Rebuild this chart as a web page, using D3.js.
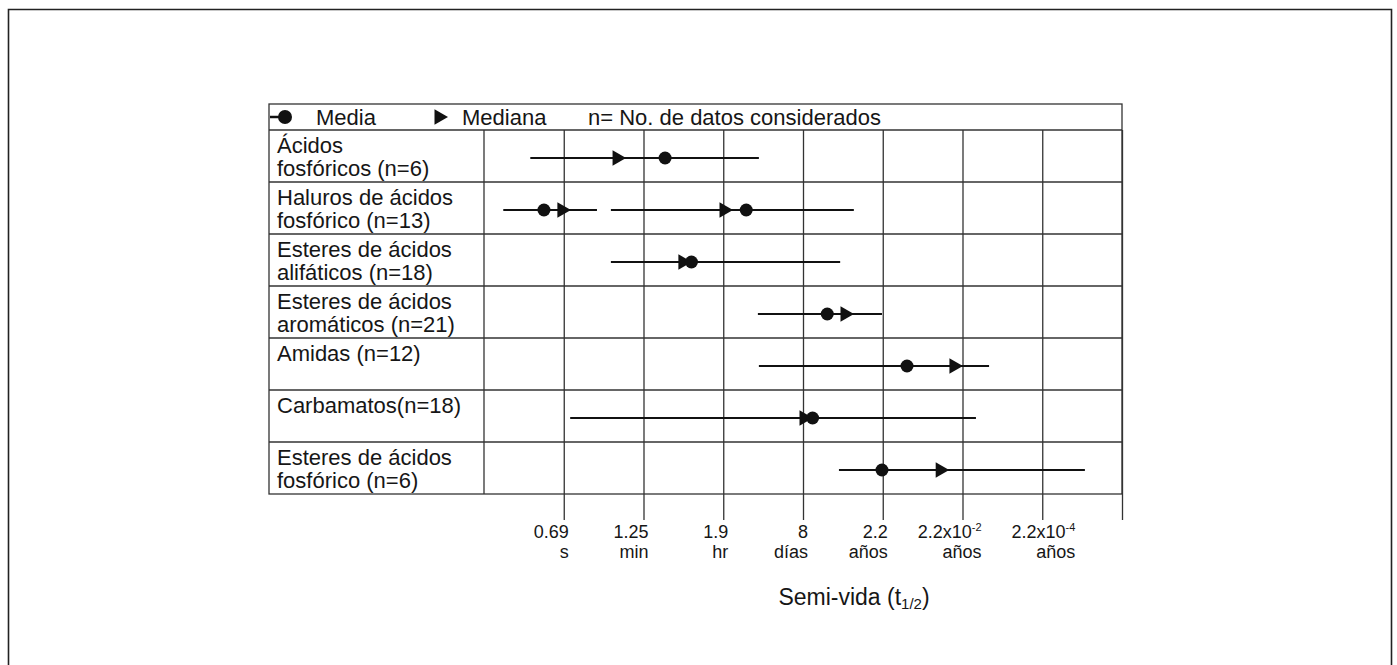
<!DOCTYPE html>
<html>
<head>
<meta charset="utf-8">
<script src="https://cdn.jsdelivr.net/npm/d3@7"></script>
<style>
  body { margin: 0; background: #fff; }
  text { font-family: "Liberation Sans", Arial, Helvetica, sans-serif; fill: #161616; }
</style>
</head>
<body>
<div id="chart"></div>
<script>
// half-lives in seconds (each tick = x100)
const rowLabels = [
  ["Ácidos", "fosfóricos (n=6)"],
  ["Haluros de ácidos", "fosfórico (n=13)"],
  ["Esteres de ácidos", "alifáticos (n=18)"],
  ["Esteres de ácidos", "aromáticos (n=21)"],
  ["Amidas (n=12)"],
  ["Carbamatos(n=18)"],
  ["Esteres de ácidos", "fosfórico (n=6)"]
]
const segRow    = [0, 1, 1, 2, 3, 4, 5, 6]
const segMin    = [0.1, 0.021, 10.5, 10.5, 5.1e4, 5.4e4, 1.0, 5.5e6]
const segMax    = [5.4e4, 4.7, 1.3e7, 5.9e6, 6.6e7, 3.2e10, 1.5e10, 8.1e12]
const segMean   = [240, 0.22, 2.6e4, 1100, 2.8e6, 2.8e8, 1.2e6, 6.6e7]
const segMedian = [15, 0.62, 7200, 670, 7.8e6, 4.2e9, 7.3e5, 1.9e9]

const tickVals  = [0.69, 69, 6900, 6.9e5, 6.9e7, 6.9e9, 6.9e11]
const tickNums  = ["0.69", "1.25", "1.9", "8", "2.2", "2.2x10", "2.2x10"]
const tickSups  = ["", "", "", "", "", "-2", "-4"]
const tickUnits = ["s", "min", "hr", "días", "años", "años", "años"]

const W = 1397, H = 665
const tableLeft = 269, tableRight = 1122, labelCol = 484
const legendTop = 104, rowsTop = 130, rowsBottom = 494, tickBottom = 520
const gridColor = '#333'

const svg = d3.select('#chart').append('svg')
  .attr('width', W).attr('height', H)

// outer frame (open at the bottom, as in the scan)
svg.append('path')
  .attr('d', `M8.5,${H + 5}V9.5H1391.5V${H + 5}`)
  .attr('fill', 'none').attr('stroke', '#222').attr('stroke-width', 1.6)

const x = d3.scaleLog()
  .domain([0.0069, 6.9e13])
  .range([labelCol, tableRight])

const y = d3.scaleBand()
  .domain(d3.range(rowLabels.length))
  .range([rowsTop, rowsBottom])

// table frame
const table = svg.append('g')
  .attr('fill', 'none').attr('stroke', gridColor).attr('stroke-width', 1.3)
table.append('rect')
  .attr('x', tableLeft).attr('y', legendTop)
  .attr('width', tableRight - tableLeft).attr('height', rowsBottom - legendTop)
table.selectAll('.hline').data(d3.range(rowLabels.length)).enter().append('line')
  .attr('x1', tableLeft).attr('x2', tableRight)
  .attr('y1', d => y(d)).attr('y2', d => y(d))
table.append('line')
  .attr('x1', labelCol).attr('x2', labelCol)
  .attr('y1', rowsTop).attr('y2', rowsBottom)

// axis: ticks double as the vertical grid lines
const axis = d3.axisBottom(x)
  .tickValues(tickVals.concat([x.domain()[1]]))
  .tickSize(-(tickBottom - rowsTop))
  .tickFormat('')

const ax = svg.append('g')
  .attr('transform', `translate(0,${tickBottom})`)
  .call(axis)
ax.select('.domain').remove()
ax.selectAll('.tick line').attr('stroke', gridColor).attr('stroke-width', 1.3)

const labelDx = [5, 5, 5, 5, 5, 19, 33]
const tl = svg.append('g').attr('font-size', 18).attr('text-anchor', 'end')
tickVals.forEach(function(v, i){
  const t = tl.append('text')
    .attr('x', x(v) + labelDx[i]).attr('y', tickBottom + 18)
  t.append('tspan').text(tickNums[i])
  if (tickSups[i]) {
    t.append('tspan').attr('font-size', 11).attr('dy', -7).text(tickSups[i])
  }
  tl.append('text')
    .attr('x', x(v) + labelDx[i]).attr('y', tickBottom + 38)
    .text(tickUnits[i])
})

// axis title
const title = svg.append('text')
  .attr('x', 854).attr('y', 605)
  .attr('text-anchor', 'middle').attr('font-size', 23)
title.append('tspan').text('Semi-vida (t')
title.append('tspan').attr('font-size', 15).attr('dy', 4).text('1/2')
title.append('tspan').attr('dy', -4).text(')')

// row labels
svg.append('g').attr('font-size', 22)
  .selectAll('text').data(rowLabels).enter().append('text')
  .attr('x', tableLeft + 8)
  .attr('y', (d, i) => y(i) + 23)
  .selectAll('tspan').data(d => d).enter().append('tspan')
  .attr('x', tableLeft + 8)
  .attr('dy', (d, j) => j ? 23 : 0)
  .text(d => d)

// ranges and markers
const cy = i => y(segRow[i]) + y.bandwidth() / 2 + 2
const idx = d3.range(segRow.length)
const marks = svg.append('g')

marks.selectAll('.range').data(idx).enter().append('line')
  .attr('x1', i => x(segMin[i])).attr('x2', i => x(segMax[i]))
  .attr('y1', cy).attr('y2', cy)
  .attr('stroke', '#111').attr('stroke-width', 2)

const tri = d3.symbol().type(d3.symbolTriangle).size(105)
marks.selectAll('.median').data(idx).enter().append('path')
  .attr('d', tri)
  .attr('transform', i => `translate(${x(segMedian[i])},${cy(i)}) rotate(90)`)
  .attr('fill', '#111')

marks.selectAll('.mean').data(idx).enter().append('circle')
  .attr('cx', i => x(segMean[i])).attr('cy', cy)
  .attr('r', 6.5).attr('fill', '#111')

// legend row
const lg = svg.append('g')
const ly = (legendTop + rowsTop) / 2
lg.append('line').attr('x1', tableLeft + 1).attr('x2', 284)
  .attr('y1', ly).attr('y2', ly).attr('stroke', '#111').attr('stroke-width', 2.5)
lg.append('circle').attr('cx', 285).attr('cy', ly).attr('r', 7).attr('fill', '#111')
lg.append('path').attr('d', tri)
  .attr('transform', `translate(439,${ly}) rotate(90)`).attr('fill', '#111')
lg.selectAll('text').data([[316, 'Media'], [462, 'Mediana'], [588, 'n= No. de datos considerados']])
  .enter().append('text')
  .attr('x', d => d[0]).attr('y', ly + 8)
  .attr('font-size', 22)
  .text(d => d[1])
</script>
</body>
</html>
